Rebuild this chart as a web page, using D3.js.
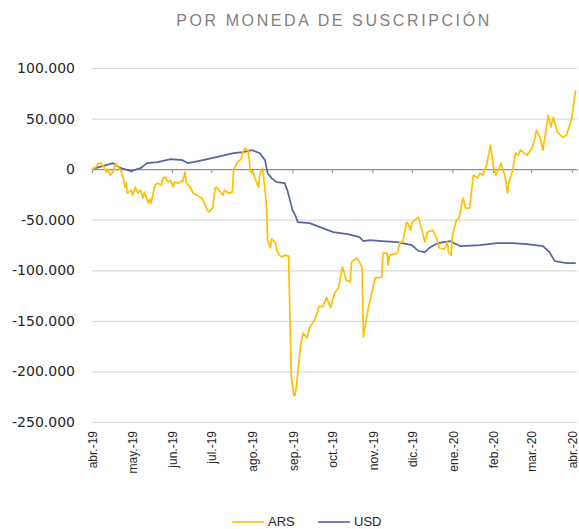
<!DOCTYPE html>
<html>
<head>
<meta charset="utf-8">
<script src="https://cdn.jsdelivr.net/npm/d3@7"></script>
<style>
  body { margin: 0; background: #fff; }
  svg { display: block; }
</style>
</head>
<body>
<svg id="chart" width="579" height="529"></svg>
<script>
// Month ticks and their labels
const tickDates = ['2019-04-01', '2019-05-01', '2019-06-01', '2019-07-01', '2019-08-01', '2019-09-01',
  '2019-10-01', '2019-11-01', '2019-12-01', '2020-01-01', '2020-02-01', '2020-03-01', '2020-04-01'];
const tickLabels = ['abr.-19', 'may.-19', 'jun.-19', 'jul.-19', 'ago.-19', 'sep.-19',
  'oct.-19', 'nov.-19', 'dic.-19', 'ene.-20', 'feb.-20', 'mar.-20', 'abr.-20'];
const yTicks = [-250000, -200000, -150000, -100000, -50000, 0, 50000, 100000];

// ARS series
const arsDates = ['2019-04-01', '2019-04-04', '2019-04-06', '2019-04-08', '2019-04-10', '2019-04-12', '2019-04-13',
  '2019-04-15', '2019-04-17', '2019-04-19', '2019-04-21', '2019-04-23', '2019-04-25', '2019-04-26', '2019-04-27',
  '2019-04-28', '2019-05-01', '2019-05-02', '2019-05-04', '2019-05-06', '2019-05-08', '2019-05-10', '2019-05-11',
  '2019-05-14', '2019-05-15', '2019-05-16', '2019-05-19', '2019-05-21', '2019-05-24', '2019-05-25', '2019-05-27',
  '2019-05-29', '2019-05-31', '2019-06-02', '2019-06-03', '2019-06-06', '2019-06-08', '2019-06-09', '2019-06-11',
  '2019-06-12', '2019-06-15', '2019-06-17', '2019-06-20', '2019-06-24', '2019-06-28', '2019-06-29', '2019-07-02',
  '2019-07-04', '2019-07-05', '2019-07-08', '2019-07-10', '2019-07-11', '2019-07-13', '2019-07-15', '2019-07-17',
  '2019-07-18', '2019-07-19', '2019-07-21', '2019-07-23', '2019-07-24', '2019-07-25', '2019-07-27', '2019-07-28',
  '2019-07-29', '2019-07-31', '2019-08-01', '2019-08-02', '2019-08-03', '2019-08-06', '2019-08-07', '2019-08-09',
  '2019-08-10', '2019-08-12', '2019-08-13', '2019-08-15', '2019-08-16', '2019-08-19', '2019-08-20', '2019-08-22',
  '2019-08-24', '2019-08-26', '2019-08-29', '2019-08-31', '2019-09-02', '2019-09-03', '2019-09-04', '2019-09-07',
  '2019-09-09', '2019-09-12', '2019-09-14', '2019-09-17', '2019-09-20', '2019-09-21', '2019-09-24', '2019-09-27',
  '2019-09-30', '2019-10-03', '2019-10-06', '2019-10-09', '2019-10-12', '2019-10-15', '2019-10-16', '2019-10-20',
  '2019-10-22', '2019-10-24', '2019-10-25', '2019-10-29', '2019-11-01', '2019-11-03', '2019-11-08', '2019-11-09',
  '2019-11-12', '2019-11-13', '2019-11-14', '2019-11-20', '2019-11-22', '2019-11-24', '2019-11-27', '2019-11-28',
  '2019-11-30', '2019-12-01', '2019-12-03', '2019-12-06', '2019-12-07', '2019-12-09', '2019-12-11', '2019-12-13',
  '2019-12-17', '2019-12-20', '2019-12-22', '2019-12-26', '2019-12-28', '2019-12-29', '2019-12-31', '2020-01-01',
  '2020-01-04', '2020-01-06', '2020-01-09', '2020-01-11', '2020-01-14', '2020-01-17', '2020-01-20', '2020-01-22',
  '2020-01-24', '2020-01-27', '2020-01-30', '2020-02-01', '2020-02-03', '2020-02-05', '2020-02-07', '2020-02-09',
  '2020-02-10', '2020-02-12', '2020-02-13', '2020-02-16', '2020-02-18', '2020-02-20', '2020-02-22', '2020-02-27',
  '2020-03-02', '2020-03-04', '2020-03-05', '2020-03-08', '2020-03-10', '2020-03-12', '2020-03-14', '2020-03-16',
  '2020-03-18', '2020-03-21', '2020-03-25', '2020-03-28', '2020-04-01', '2020-04-02', '2020-04-04'];
const arsValues = [0, 2000, 5900, 5900, 2000, -3000, 0,
  -5900, -3000, 5900, 2000, -1000, -8900, -17800, -13800,
  -23700, -20700, -25700, -17800, -23700, -20700, -28700, -22700,
  -33600, -29600, -33600, -15800, -13800, -15800, -8900, -7900,
  -12800, -10900, -17800, -12800, -13800, -11900, -12800, -3000,
  -13800, -17800, -23700, -25700, -28700, -40500, -42500, -38500,
  -18800, -17800, -22700, -25700, -20700, -22700, -23700, -22700,
  -1000, 2000, 6900, 8900, 10900, 16800, 20700, 18800,
  18800, -3000, -4000, -3000, -7900, -17800, -5900, 1000,
  -8900, -33600, -70000, -78000, -69000, -73100, -80000, -85000,
  -87000, -85000, -86000, -205000, -224000, -223000, -214000, -176000,
  -162000, -167000, -156000, -151000, -142000, -136000, -136000, -127000,
  -137000, -122500, -117600, -96800, -109700, -111600, -91900, -87900,
  -91900, -96800, -166000, -136000, -119500, -107700, -106700, -83000,
  -83000, -94800, -85000, -83000, -72100, -72100, -52400, -53400,
  -60300, -53400, -50400, -47400, -52400, -62200, -72100, -62200,
  -60300, -68200, -78000, -79000, -72100, -82000, -85000, -65200,
  -50400, -48400, -28700, -38500, -38500, -5900, -8900, -4000,
  -5900, 4000, 23700, 4000, -5900, -1000, 5900, -3000,
  -5900, -23700, -12800, -1000, 15800, 13800, 18800, 13800,
  21700, 31600, 38500, 30600, 18800, 35600, 53400, 41500,
  51400, 36600, 31600, 33600, 50400, 60300, 78000];

// USD series
const usdDates = ['2019-04-01', '2019-04-17', '2019-04-23', '2019-05-01', '2019-05-08', '2019-05-13', '2019-05-21',
  '2019-05-31', '2019-06-09', '2019-06-13', '2019-06-21', '2019-07-05', '2019-07-18', '2019-07-25', '2019-08-01',
  '2019-08-07', '2019-08-11', '2019-08-13', '2019-08-16', '2019-08-20', '2019-08-26', '2019-08-28', '2019-09-01',
  '2019-09-03', '2019-09-05', '2019-09-14', '2019-09-22', '2019-10-02', '2019-10-13', '2019-10-22', '2019-10-25',
  '2019-10-30', '2019-11-08', '2019-11-20', '2019-12-01', '2019-12-06', '2019-12-11', '2019-12-15', '2019-12-21',
  '2019-12-30', '2020-01-02', '2020-01-07', '2020-01-22', '2020-02-04', '2020-02-16', '2020-02-27', '2020-03-10',
  '2020-03-15', '2020-03-19', '2020-03-28', '2020-04-04'];
const usdValues = [0, 5900, 1000, -2000, 1000, 5900, 6900,
  9900, 8900, 5900, 7900, 11900, 15800, 16800, 18800,
  15800, 8900, -4000, -8900, -12800, -13800, -20700, -40500,
  -45400, -52400, -53400, -57300, -62200, -64200, -67200, -71100,
  -70100, -71100, -72100, -75100, -81000, -82000, -77100, -73100,
  -71100, -73100, -76100, -75100, -73100, -73100, -74100, -76100,
  -82000, -90900, -92900, -92900];

const parse = d3.timeParse('%Y-%m-%d');
const ars = arsDates.map((d, i) => ({ date: parse(d), value: arsValues[i] }));
const usd = usdDates.map((d, i) => ({ date: parse(d), value: usdValues[i] }));

const svg = d3.select('#chart');
const plotLeft = 92, plotRight = 577, plotTop = 68, plotBottom = 422;

// Scales
const x = d3.scaleTime()
  .domain([parse('2019-04-01'), parse('2020-04-05')])
  .range([plotLeft, plotRight]);
const y = d3.scaleLinear()
  .domain([-250000, 100000])
  .range([plotBottom, plotTop]);

const locale = d3.formatLocale({ decimal: ',', thousands: '.', grouping: [3], currency: ['$', ''], minus: '-' });
const fmt = locale.format(',.0f');

// Title
svg.append('text')
  .attr('x', 334)
  .attr('y', 26)
  .attr('text-anchor', 'middle')
  .style('font-family', 'Liberation Sans, Arial, sans-serif')
  .style('font-size', '16px')
  .style('letter-spacing', '2.6px')
  .style('fill', '#7f7f7f')
  .text('POR MONEDA DE SUSCRIPCIÓN');

// Gridlines + y labels
const yAxis = svg.append('g')
  .attr('transform', `translate(${plotLeft},0)`)
  .call(d3.axisLeft(y).tickValues(yTicks).tickSize(-(plotRight - plotLeft)).tickPadding(17).tickFormat(fmt));
yAxis.select('.domain').remove();
yAxis.selectAll('.tick line')
  .attr('stroke', d => d === 0 ? 'none' : '#d9d9d9')
  .attr('stroke-width', 1.2);
yAxis.selectAll('.tick text')
  .style('font-family', 'DejaVu Sans, sans-serif')
  .style('font-size', '14px')
  .style('fill', '#262626');

// Zero line with month ticks
const zeroAxis = svg.append('g')
  .attr('transform', `translate(0,${y(0)})`)
  .call(d3.axisBottom(x).tickValues(tickDates.map(parse)).tickSize(4).tickSizeOuter(0).tickFormat(''));
zeroAxis.select('.domain').attr('stroke', '#8c8c8c').attr('stroke-width', 1.2);
zeroAxis.selectAll('.tick line').attr('stroke', '#8c8c8c');

// Month labels at the bottom
svg.append('g')
  .selectAll('text')
  .data(tickDates)
  .enter()
  .append('text')
  .attr('transform', d => `translate(${x(parse(d)) + 1},${plotBottom + 9}) rotate(-90)`)
  .attr('text-anchor', 'end')
  .attr('dy', '0.35em')
  .style('font-family', 'Liberation Sans, Arial, sans-serif')
  .style('font-size', '12px')
  .style('fill', '#262626')
  .text((d, i) => tickLabels[i]);

// Lines
const line = d3.line().x(d => x(d.date)).y(d => y(d.value));
svg.append('path')
  .datum(usd)
  .attr('d', line)
  .attr('fill', 'none')
  .attr('stroke', '#5565a0')
  .attr('stroke-width', 1.7);
svg.append('path')
  .datum(ars)
  .attr('d', line)
  .attr('fill', 'none')
  .attr('stroke', '#ffc000')
  .attr('stroke-width', 1.7)
  .attr('stroke-linejoin', 'round');

// Legend
const legend = [{ name: 'ARS', color: '#ffc000', x: 232 }, { name: 'USD', color: '#5565a0', x: 318 }];
legend.forEach(l => {
  svg.append('line')
    .attr('x1', l.x).attr('x2', l.x + 32)
    .attr('y1', 522).attr('y2', 522)
    .attr('stroke', l.color)
    .attr('stroke-width', 1.6);
  svg.append('text')
    .attr('x', l.x + 36)
    .attr('y', 526)
    .style('font-family', 'Liberation Sans, Arial, sans-serif')
    .style('font-size', '13px')
    .style('fill', '#262626')
    .text(l.name);
});
</script>
</body>
</html>
